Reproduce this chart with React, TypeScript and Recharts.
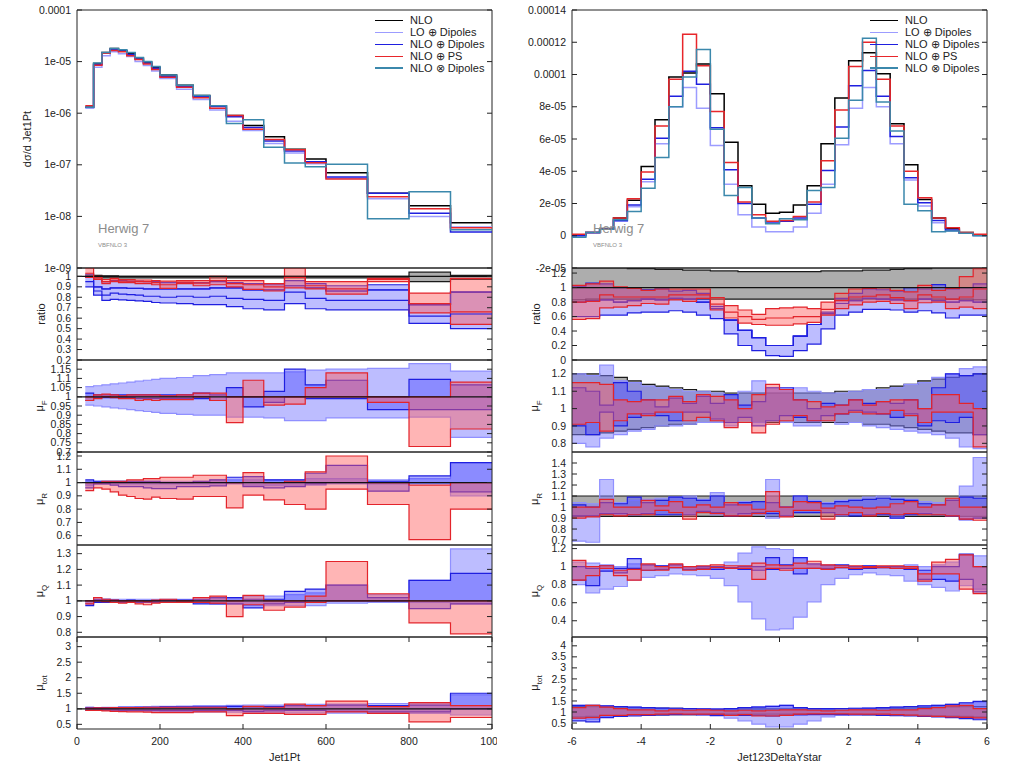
import React from 'react';
import { ComposedChart, Area, Line, XAxis, YAxis, ReferenceArea, ReferenceLine } from 'recharts';

// ---------- bins ----------
const ptEdges = [20, 40, 60, 80, 100, 120, 140, 160, 180, 200, 240, 280, 320, 360, 400, 450, 500, 550, 600, 700, 800, 900, 1000];
const dyEdges = [-6, -5.6, -5.2, -4.8, -4.4, -4, -3.6, -3.2, -2.8, -2.4, -2, -1.6, -1.2, -0.8, -0.4, 0, 0.4, 0.8, 1.2, 1.6, 2, 2.4, 2.8, 3.2, 3.6, 4, 4.4, 4.8, 5.2, 5.6, 6];

const ptTicks = [0, 200, 400, 600, 800, 1000];
const ptTickLabels = ['0', '200', '400', '600', '800', '1000'];
const dyTicks = [-6, -4, -2, 0, 2, 4, 6];
const dyTickLabels = ['-6', '-4', '-2', '0', '2', '4', '6'];

const seriesNames = ['NLO', 'LO ⊕ Dipoles', 'NLO ⊕ Dipoles', 'NLO ⊕ PS', 'NLO ⊗ Dipoles'];
const seriesColors = ['#000000', '#9c9cff', '#1f1fe0', '#e8262b', '#3b88ac'];

// ---------- Jet1Pt: main ----------
const ptNlo = [1.3e-6, 9.2e-6, 1.5e-5, 1.8e-5, 1.65e-5, 1.45e-5, 1.18e-5, 9.8e-6, 7.8e-6, 5.5e-6, 3.5e-6, 2.2e-6, 1.4e-6, 9e-7, 5.8e-7, 3.5e-7, 2e-7, 1.3e-7, 7e-8, 2.8e-8, 1.6e-8, 7.5e-9];
const ptLoDip = [1.25e-6, 7.8e-6, 1.3e-5, 1.55e-5, 1.42e-5, 1.25e-5, 1.0e-5, 8.4e-6, 6.6e-6, 4.7e-6, 2.9e-6, 1.85e-6, 1.15e-6, 7e-7, 4.6e-7, 2.6e-7, 1.7e-7, 1.05e-7, 5.5e-8, 2.2e-8, 1.0e-8, 6.2e-9];
const ptNloDip = [1.3e-6, 8.8e-6, 1.45e-5, 1.72e-5, 1.6e-5, 1.38e-5, 1.12e-5, 9.3e-6, 7.4e-6, 5.2e-6, 3.3e-6, 2.1e-6, 1.35e-6, 8.5e-7, 5.3e-7, 2.9e-7, 1.85e-7, 1.15e-7, 5.8e-8, 2.8e-8, 1.15e-8, 5e-9];
const ptNloPs = [1.4e-6, 8.5e-6, 1.45e-5, 1.65e-5, 1.55e-5, 1.3e-5, 1.1e-5, 9.0e-6, 7.0e-6, 5.0e-6, 3.2e-6, 2.0e-6, 1.25e-6, 9e-7, 4.9e-7, 3.1e-7, 1.95e-7, 1.1e-7, 5.3e-8, 2.4e-8, 1.4e-8, 6e-9];
const ptNloXDip = [1.3e-6, 9.4e-6, 1.5e-5, 1.8e-5, 1.7e-5, 1.5e-5, 1.2e-5, 1.0e-5, 8.0e-6, 5.5e-6, 3.5e-6, 2.2e-6, 1.4e-6, 6.3e-7, 7.5e-7, 2.2e-7, 1.08e-7, 9.2e-8, 1.02e-7, 9e-9, 3e-8, 5.5e-9];

// ---------- Jet1Pt: ratio ----------
const ptRatioGrayLo = [0.99, 0.985, 0.985, 0.985, 0.985, 0.985, 0.985, 0.985, 0.985, 0.985, 0.985, 0.985, 0.985, 0.985, 0.985, 0.985, 0.985, 0.985, 0.985, 0.985, 0.95, 0.97];
const ptRatioGrayHi = [1.01, 1.01, 1.005, 1.005, 1.0, 1.0, 1.0, 1.0, 1.0, 1.0, 1.0, 1.0, 1.0, 1.0, 1.0, 1.0, 1.0, 1.0, 1.0, 1.0, 1.04, 1.01];
const ptRatioLoDipLo = [0.9, 0.82, 0.77, 0.78, 0.775, 0.77, 0.765, 0.76, 0.75, 0.745, 0.74, 0.73, 0.73, 0.71, 0.69, 0.68, 0.74, 0.69, 0.68, 0.68, 0.55, 0.5];
const ptRatioLoDipMid = [0.95, 0.86, 0.82, 0.84, 0.83, 0.825, 0.82, 0.81, 0.81, 0.8, 0.81, 0.8, 0.81, 0.79, 0.78, 0.77, 0.85, 0.79, 0.77, 0.77, 0.62, 0.64];
const ptRatioLoDipHi = [0.99, 0.9, 0.88, 0.89, 0.89, 0.885, 0.885, 0.88, 0.88, 0.88, 0.88, 0.88, 0.89, 0.89, 0.87, 0.87, 0.91, 0.89, 0.86, 0.87, 0.73, 0.85];
const ptRatioNloDipHi = [1.02, 0.97, 0.95, 0.96, 0.96, 0.955, 0.955, 0.95, 0.95, 0.94, 0.94, 0.94, 0.95, 0.94, 0.93, 0.92, 0.96, 0.93, 0.91, 0.92, 0.73, 0.85];
const ptRatioPsLo = [0.99, 0.97, 0.93, 0.95, 0.94, 0.94, 0.93, 0.93, 0.92, 0.885, 0.93, 0.91, 0.92, 0.9, 0.875, 0.86, 0.89, 0.88, 0.83, 0.95, 0.65, 0.54];
const ptRatioPsMid = [1.03, 0.985, 0.95, 0.965, 0.955, 0.955, 0.95, 0.95, 0.94, 0.92, 0.945, 0.935, 0.96, 0.93, 0.92, 0.9, 0.99, 0.91, 0.88, 0.97, 0.74, 0.66];
const ptRatioPsHi = [1.08, 1.0, 0.97, 0.98, 0.97, 0.97, 0.965, 0.965, 0.96, 0.955, 0.96, 0.96, 1.0, 0.96, 0.96, 0.93, 1.08, 0.95, 0.95, 0.98, 0.84, 0.98];

// ---------- Jet1Pt: muF ----------
const ptMuFLightLo = [0.955, 0.95, 0.945, 0.94, 0.935, 0.93, 0.925, 0.92, 0.915, 0.91, 0.905, 0.9, 0.9, 0.89, 0.89, 0.885, 0.87, 0.87, 0.885, 0.885, 0.89, 0.78];
const ptMuFLightHi = [1.055, 1.06, 1.065, 1.07, 1.075, 1.08, 1.085, 1.09, 1.095, 1.1, 1.105, 1.115, 1.12, 1.13, 1.13, 1.13, 1.135, 1.145, 1.15, 1.155, 1.18, 1.14];
const ptMuFBlueLo = [0.98, 0.995, 0.995, 0.995, 0.995, 0.995, 0.99, 0.99, 0.99, 0.99, 0.99, 0.99, 0.98, 1.0, 0.945, 0.97, 1.0, 0.99, 0.99, 0.93, 0.93, 0.93];
const ptMuFBlueHi = [1.02, 1.01, 1.01, 1.01, 1.01, 1.01, 1.01, 1.01, 1.01, 1.01, 1.01, 1.02, 1.01, 1.05, 1.0, 1.03, 1.15, 1.065, 1.09, 1.0, 1.095, 1.065];
const ptMuFPsLo = [0.98, 0.99, 1.0, 0.995, 0.99, 0.99, 0.98, 0.985, 0.98, 0.985, 0.985, 1.0, 0.98, 0.86, 1.0, 0.955, 0.96, 1.0, 1.0, 0.97, 0.73, 0.825];
const ptMuFPsHi = [1.0, 1.01, 1.015, 1.01, 1.005, 1.01, 1.01, 1.01, 1.01, 1.005, 1.01, 1.02, 1.02, 1.0, 1.09, 1.0, 1.0, 1.05, 1.13, 1.0, 1.0, 1.08];

// ---------- Jet1Pt: muR ----------
const ptMuRLightLo = [0.98, 0.99, 0.99, 0.99, 0.99, 0.99, 0.99, 0.99, 0.99, 0.99, 0.99, 0.99, 0.99, 0.99, 0.98, 0.98, 0.98, 0.98, 0.99, 0.99, 0.99, 0.9];
const ptMuRLightHi = [1.01, 1.01, 1.01, 1.01, 1.01, 1.01, 1.01, 1.01, 1.01, 1.01, 1.01, 1.01, 1.02, 1.02, 1.02, 1.02, 1.02, 1.03, 1.03, 1.02, 1.03, 1.15];
const ptMuRBlueLo = [0.96, 0.99, 0.99, 0.98, 0.97, 0.97, 0.97, 0.96, 0.955, 0.955, 0.97, 0.97, 0.975, 1.0, 0.97, 0.96, 0.97, 0.99, 1.0, 0.935, 1.0, 0.93];
const ptMuRBlueHi = [1.02, 1.01, 1.01, 1.01, 1.01, 1.01, 1.01, 1.01, 1.01, 1.0, 1.0, 1.01, 1.02, 1.04, 1.045, 1.02, 1.02, 1.07, 1.13, 1.01, 1.05, 1.15];
const ptMuRPsLo = [0.94, 0.96, 0.95, 0.93, 0.905, 0.895, 0.88, 0.875, 0.89, 0.88, 0.875, 0.895, 0.895, 0.81, 0.905, 0.87, 0.835, 0.8, 0.95, 0.835, 0.57, 0.8];
const ptMuRPsHi = [1.0, 1.0, 1.01, 1.01, 1.01, 1.02, 1.02, 1.03, 1.03, 1.04, 1.04, 1.055, 1.055, 1.0, 1.075, 1.0, 1.01, 1.08, 1.2, 1.0, 0.98, 1.0];

// ---------- Jet1Pt: muQ ----------
const ptMuQLightLo = [0.98, 0.99, 0.99, 0.99, 0.99, 0.99, 0.99, 0.99, 0.99, 0.99, 0.99, 0.99, 0.98, 0.98, 0.97, 0.97, 0.97, 0.97, 0.985, 0.99, 0.99, 0.98];
const ptMuQLightHi = [1.0, 1.01, 1.01, 1.01, 1.01, 1.01, 1.01, 1.01, 1.01, 1.01, 1.01, 1.01, 1.02, 1.02, 1.03, 1.03, 1.04, 1.05, 1.1, 1.04, 1.13, 1.33];
const ptMuQBlueLo = [0.97, 0.99, 0.99, 0.99, 0.99, 0.99, 0.99, 0.99, 0.99, 0.99, 0.99, 0.98, 0.98, 0.98, 0.955, 0.98, 0.99, 1.0, 1.0, 1.0, 0.95, 0.98];
const ptMuQBlueHi = [1.0, 1.01, 1.01, 1.005, 1.0, 1.005, 1.0, 1.0, 1.0, 1.005, 1.005, 1.01, 1.02, 1.02, 1.01, 1.01, 1.06, 1.075, 1.1, 1.02, 1.13, 1.175];
const ptMuQPsLo = [0.98, 1.0, 0.995, 0.99, 0.985, 0.99, 0.98, 0.975, 0.985, 0.99, 0.99, 0.99, 0.985, 0.9, 0.975, 0.94, 0.96, 0.99, 1.0, 1.0, 0.86, 0.79];
const ptMuQPsHi = [1.0, 1.02, 1.01, 1.005, 1.0, 1.0, 1.0, 0.995, 1.005, 1.01, 1.0, 1.02, 1.03, 1.0, 1.035, 1.0, 1.0, 1.03, 1.25, 1.045, 1.0, 1.0];

// ---------- Jet1Pt: mutot ----------
const ptMuTLightLo = [0.97, 0.96, 0.95, 0.94, 0.94, 0.93, 0.93, 0.92, 0.92, 0.91, 0.91, 0.9, 0.9, 0.89, 0.88, 0.88, 0.87, 0.87, 0.86, 0.86, 0.85, 0.8];
const ptMuTLightHi = [1.03, 1.04, 1.05, 1.05, 1.06, 1.06, 1.07, 1.07, 1.08, 1.08, 1.09, 1.1, 1.1, 1.11, 1.12, 1.12, 1.13, 1.14, 1.15, 1.17, 1.18, 1.45];
const ptMuTBlueLo = [0.95, 0.96, 0.96, 0.96, 0.95, 0.95, 0.95, 0.95, 0.95, 0.94, 0.94, 0.94, 0.94, 0.95, 0.92, 0.93, 0.95, 0.95, 0.92, 0.9, 0.9, 1.0];
const ptMuTBlueHi = [1.05, 1.04, 1.04, 1.04, 1.05, 1.05, 1.05, 1.05, 1.05, 1.06, 1.06, 1.06, 1.06, 1.08, 1.06, 1.07, 1.1, 1.1, 1.12, 1.1, 1.12, 1.5];
const ptMuTPsLo = [0.95, 0.95, 0.93, 0.92, 0.91, 0.9, 0.9, 0.89, 0.88, 0.88, 0.88, 0.9, 0.9, 0.78, 0.85, 0.85, 0.82, 0.82, 0.9, 0.85, 0.58, 0.72];
const ptMuTPsHi = [1.02, 1.03, 1.03, 1.04, 1.04, 1.04, 1.04, 1.05, 1.05, 1.05, 1.05, 1.05, 1.05, 1.0, 1.08, 1.05, 1.15, 1.1, 1.25, 1.07, 1.2, 1.1];

// ---------- Jet123DeltaYstar: main ----------
const dyNlo = [5e-7, 2e-6, 4.5e-6, 1.1e-5, 2.2e-5, 4.3e-5, 7.2e-5, 9.85e-5, 1.01e-4, 1.065e-4, 8.8e-5, 5.8e-5, 3.1e-5, 1.95e-5, 1.4e-5, 1.45e-5, 1.9e-5, 3.1e-5, 5.7e-5, 8.55e-5, 1.085e-4, 1.135e-4, 1.005e-4, 6.95e-5, 4.4e-5, 2.25e-5, 1.1e-5, 4.5e-6, 2e-6, 5e-7];
const dyLoDip = [0, 1.5e-6, 4e-6, 9e-6, 1.8e-5, 3.35e-5, 5.7e-5, 8.0e-5, 9.2e-5, 7.9e-5, 5.6e-5, 3.2e-5, 1.3e-5, 5.5e-6, 2.5e-6, 2.5e-6, 5.5e-6, 1.4e-5, 3.2e-5, 5.65e-5, 7.9e-5, 9.2e-5, 8.0e-5, 5.7e-5, 3.45e-5, 1.85e-5, 8e-6, 3e-6, 1.5e-6, 0];
const dyNloDip = [0, 2e-6, 4e-6, 9.5e-6, 1.9e-5, 3.5e-5, 6.05e-5, 8.65e-5, 1.02e-4, 9.4e-5, 6.7e-5, 4.1e-5, 2.0e-5, 1.1e-5, 8.5e-6, 9e-6, 1.1e-5, 1.95e-5, 4.05e-5, 6.75e-5, 9.3e-5, 1.025e-4, 8.65e-5, 6.15e-5, 3.6e-5, 2.05e-5, 9.5e-6, 3.5e-6, 1.5e-6, 5e-7];
const dyNloPs = [1e-6, 2e-6, 4e-6, 1.1e-5, 2.3e-5, 3.95e-5, 6.8e-5, 9.7e-5, 1.25e-4, 1.055e-4, 7.7e-5, 4.55e-5, 2.1e-5, 1.3e-5, 9e-6, 9.5e-6, 1.2e-5, 2.1e-5, 4.65e-5, 7.8e-5, 1.05e-4, 1.2e-4, 9.7e-5, 6.8e-5, 4.0e-5, 2.35e-5, 1.1e-5, 5e-6, 2e-6, 1e-6];
const dyNloXDip = [-1e-6, 2e-6, 4e-6, 1.0e-5, 1.5e-5, 2.95e-5, 4.85e-5, 8.0e-5, 9.85e-5, 1.155e-4, 6.6e-5, 2.5e-5, 3.0e-5, 1.1e-5, 7.5e-6, 1.05e-5, 1.0e-5, 2.8e-5, 3.0e-5, 6.05e-5, 8.4e-5, 1.225e-4, 8.3e-5, 6.5e-5, 1.95e-5, 1.55e-5, 2.5e-6, 3e-6, 1.5e-6, 0];

// ---------- Jet123DeltaYstar: ratio ----------
const dyRatioGrayLo = [0.83, 0.84, 0.84, 0.84, 0.84, 0.84, 0.84, 0.84, 0.84, 0.84, 0.84, 0.84, 0.84, 0.84, 0.84, 0.84, 0.84, 0.84, 0.84, 0.84, 0.84, 0.84, 0.84, 0.84, 0.84, 0.84, 0.84, 0.84, 0.84, 0.83];
const dyRatioGrayHi = [1.27, 1.27, 1.27, 1.27, 1.26, 1.26, 1.25, 1.25, 1.24, 1.24, 1.23, 1.23, 1.22, 1.22, 1.22, 1.22, 1.22, 1.22, 1.23, 1.23, 1.23, 1.24, 1.24, 1.25, 1.26, 1.26, 1.27, 1.27, 1.27, 1.27];
const dyRatioLoDipLo = [0.6, 0.6, 0.62, 0.62, 0.65, 0.66, 0.66, 0.68, 0.66, 0.62, 0.57, 0.36, 0.2, 0.13, 0.06, 0.05, 0.13, 0.22, 0.43, 0.62, 0.66, 0.7, 0.7, 0.69, 0.66, 0.68, 0.65, 0.58, 0.62, 0.62];
const dyRatioLoDipHi = [0.8, 0.82, 0.83, 0.8, 0.82, 0.84, 0.83, 0.85, 0.84, 0.8, 0.71, 0.55, 0.41, 0.31, 0.2, 0.2, 0.33, 0.49, 0.64, 0.78, 0.82, 0.85, 0.84, 0.83, 0.82, 0.84, 0.82, 0.8, 0.82, 0.8];
const dyRatioNloDipHi = [1.02, 1.06, 1.05, 1.0, 0.99, 0.97, 0.98, 0.95, 0.96, 0.92, 0.74, 0.55, 0.41, 0.31, 0.2, 0.2, 0.33, 0.49, 0.66, 0.85, 0.92, 0.98, 0.97, 0.95, 1.0, 0.98, 1.04, 0.98, 1.0, 1.05];
const dyRatioPsLo = [0.56, 0.57, 0.72, 0.73, 0.75, 0.78, 0.77, 0.83, 0.81, 0.85, 0.69, 0.58, 0.51, 0.49, 0.48, 0.48, 0.5, 0.52, 0.62, 0.71, 0.76, 0.8, 0.81, 0.78, 0.71, 0.79, 0.8, 0.71, 0.73, 0.71];
const dyRatioPsMid = [0.8, 0.81, 0.9, 0.87, 0.87, 0.87, 0.87, 0.9, 0.9, 0.9, 0.77, 0.66, 0.6, 0.56, 0.58, 0.58, 0.6, 0.6, 0.7, 0.82, 0.87, 0.88, 0.9, 0.86, 0.82, 0.9, 0.87, 0.84, 0.87, 0.98];
const dyRatioPsHi = [1.03, 1.05, 1.09, 1.01, 0.99, 0.96, 0.98, 0.98, 0.98, 0.98, 0.86, 0.75, 0.69, 0.63, 0.71, 0.72, 0.73, 0.71, 0.8, 0.92, 0.98, 0.99, 1.0, 0.96, 0.94, 1.03, 0.96, 0.99, 1.15, 1.26];

// ---------- Jet123DeltaYstar: muF ----------
const dyMuFGrayLo = [0.85, 0.85, 0.86, 0.87, 0.88, 0.89, 0.9, 0.91, 0.91, 0.92, 0.92, 0.92, 0.92, 0.92, 0.92, 0.92, 0.92, 0.92, 0.92, 0.92, 0.92, 0.91, 0.91, 0.9, 0.89, 0.88, 0.87, 0.86, 0.86, 0.85];
const dyMuFGrayHi = [1.2, 1.2, 1.19, 1.18, 1.16, 1.14, 1.13, 1.12, 1.11, 1.1, 1.1, 1.09, 1.09, 1.09, 1.09, 1.09, 1.09, 1.09, 1.09, 1.1, 1.1, 1.11, 1.12, 1.13, 1.14, 1.16, 1.17, 1.18, 1.19, 1.2];
const dyMuFLightLo = [0.8, 0.78, 0.83, 0.85, 0.87, 0.88, 0.9, 0.9, 0.91, 0.92, 0.92, 0.9, 0.93, 0.92, 0.93, 0.92, 0.9, 0.9, 0.93, 0.91, 0.92, 0.9, 0.89, 0.88, 0.87, 0.86, 0.85, 0.83, 0.78, 0.77];
const dyMuFLightHi = [1.2, 1.19, 1.25, 1.16, 1.15, 1.13, 1.12, 1.11, 1.1, 1.1, 1.09, 1.08, 1.1, 1.16, 1.12, 1.11, 1.12, 1.1, 1.09, 1.09, 1.1, 1.11, 1.11, 1.12, 1.14, 1.15, 1.18, 1.2, 1.23, 1.24];
const dyMuFBlueLo = [0.9, 0.85, 0.98, 0.9, 0.95, 0.97, 0.96, 0.93, 0.98, 0.98, 0.94, 0.92, 0.95, 0.9, 0.93, 0.96, 0.95, 0.93, 0.96, 0.97, 0.99, 0.98, 0.97, 0.95, 0.97, 0.9, 0.93, 0.92, 0.95, 0.85];
const dyMuFBlueHi = [1.12, 1.1, 1.02, 1.15, 1.1, 1.05, 1.01, 1.06, 1.03, 1.07, 1.03, 1.08, 1.02, 1.04, 1.12, 1.12, 1.05, 1.0, 1.03, 1.02, 1.05, 1.03, 1.04, 1.03, 1.05, 1.0, 1.12, 1.2, 1.19, 1.2];
const dyMuFPsLo = [0.91, 0.92, 0.87, 0.93, 0.97, 0.96, 0.98, 0.98, 0.93, 0.95, 0.93, 0.89, 0.92, 0.86, 0.91, 0.93, 0.96, 0.93, 0.93, 0.97, 0.98, 0.97, 0.97, 0.99, 0.96, 0.92, 0.98, 0.98, 0.98, 0.78];
const dyMuFPsHi = [1.15, 1.15, 1.14, 1.05, 1.04, 1.05, 1.05, 1.07, 1.04, 1.08, 1.07, 1.05, 1.0, 1.08, 1.14, 1.11, 1.05, 1.04, 1.01, 1.02, 1.05, 1.02, 1.04, 1.05, 1.05, 1.0, 1.08, 1.08, 1.03, 1.0];

// ---------- Jet123DeltaYstar: muR ----------
const dyMuRGrayLo = [0.915, 0.915, 0.915, 0.915, 0.915, 0.915, 0.915, 0.915, 0.915, 0.915, 0.915, 0.915, 0.915, 0.915, 0.915, 0.915, 0.915, 0.915, 0.915, 0.915, 0.915, 0.915, 0.915, 0.915, 0.915, 0.915, 0.915, 0.915, 0.915, 0.915];
const dyMuRGrayHi = [1.1, 1.1, 1.1, 1.1, 1.1, 1.1, 1.1, 1.1, 1.1, 1.1, 1.1, 1.1, 1.1, 1.1, 1.1, 1.1, 1.1, 1.1, 1.1, 1.1, 1.1, 1.1, 1.1, 1.1, 1.1, 1.1, 1.1, 1.1, 1.1, 1.1];
const dyMuRLightLo = [0.69, 0.68, 0.95, 0.93, 0.93, 0.95, 0.93, 0.95, 0.94, 0.96, 0.93, 0.95, 0.93, 0.93, 0.9, 0.92, 0.95, 0.95, 0.95, 0.92, 0.93, 0.93, 0.93, 0.9, 0.93, 0.95, 0.95, 0.92, 0.88, 0.9];
const dyMuRLightHi = [1.04, 1.03, 1.25, 1.04, 1.06, 1.07, 1.08, 1.09, 1.1, 1.07, 1.13, 1.04, 1.05, 1.05, 1.25, 1.0, 1.1, 1.06, 1.04, 1.06, 1.07, 1.09, 1.1, 1.08, 1.07, 1.05, 1.04, 1.07, 1.19, 1.45];
const dyMuRBlueLo = [0.92, 0.92, 0.94, 0.94, 0.93, 0.94, 0.93, 0.93, 0.93, 0.96, 0.95, 0.92, 0.94, 0.95, 0.94, 0.92, 0.95, 0.95, 0.95, 0.93, 0.92, 0.93, 0.93, 0.9, 0.93, 0.94, 0.93, 0.92, 0.89, 0.9];
const dyMuRBlueHi = [1.02, 1.0, 1.04, 1.03, 1.09, 1.04, 1.06, 1.09, 1.08, 1.06, 1.1, 1.02, 1.04, 1.05, 1.04, 1.0, 1.1, 1.05, 1.03, 1.05, 1.06, 1.07, 1.08, 1.07, 1.06, 1.03, 1.02, 1.06, 1.09, 1.08];
const dyMuRPsLo = [0.9, 0.91, 0.93, 0.92, 0.93, 0.93, 0.97, 0.95, 0.89, 0.95, 0.94, 0.92, 0.92, 0.94, 0.96, 0.91, 0.97, 0.97, 0.89, 0.93, 0.95, 0.92, 0.94, 0.93, 0.94, 0.93, 0.93, 0.92, 0.89, 0.88];
const dyMuRPsHi = [1.0, 1.0, 1.07, 1.0, 1.0, 1.06, 1.01, 1.05, 1.0, 1.02, 1.0, 1.04, 1.02, 0.98, 1.14, 1.0, 1.05, 1.04, 0.99, 1.01, 1.0, 0.99, 1.0, 1.03, 1.05, 1.0, 1.02, 1.08, 1.0, 1.0];

// ---------- Jet123DeltaYstar: muQ ----------
const dyMuQLightLo = [0.8, 0.71, 0.75, 0.78, 0.85, 0.88, 0.9, 0.92, 0.91, 0.9, 0.87, 0.79, 0.61, 0.42, 0.3, 0.31, 0.44, 0.61, 0.8, 0.87, 0.91, 0.93, 0.91, 0.9, 0.84, 0.8, 0.77, 0.73, 0.79, 0.75];
const dyMuQLightHi = [1.05, 1.04, 1.02, 1.0, 1.03, 1.02, 1.01, 1.02, 1.0, 1.0, 1.0, 1.05, 1.15, 1.22, 1.2, 1.19, 1.1, 1.02, 1.02, 1.01, 1.0, 1.01, 1.0, 1.0, 1.02, 1.0, 1.02, 1.05, 1.13, 1.12];
const dyMuQBlueLo = [0.85, 0.79, 0.95, 0.93, 0.98, 0.96, 0.97, 0.99, 0.97, 0.98, 0.97, 0.98, 0.97, 0.96, 0.97, 0.98, 0.92, 0.98, 0.98, 0.99, 0.97, 0.98, 0.99, 0.98, 0.97, 0.86, 0.86, 0.84, 0.86, 0.72];
const dyMuQBlueHi = [1.0, 0.98, 1.01, 0.98, 1.09, 1.02, 1.01, 1.02, 1.0, 1.0, 1.0, 0.99, 1.0, 1.0, 1.1, 1.02, 1.1, 1.03, 1.01, 1.02, 1.0, 1.01, 1.0, 1.0, 1.0, 0.96, 1.0, 1.0, 1.14, 1.0];
const dyMuQPsLo = [0.85, 0.9, 0.98, 0.9, 0.85, 0.96, 0.96, 0.99, 0.96, 0.97, 0.99, 0.98, 0.98, 0.86, 0.98, 0.96, 0.98, 0.98, 0.97, 0.99, 0.98, 0.99, 0.99, 0.98, 0.98, 0.84, 0.92, 0.92, 0.75, 0.7];
const dyMuQPsHi = [1.07, 1.0, 1.01, 0.96, 0.97, 1.03, 1.0, 1.03, 1.0, 1.01, 1.02, 1.01, 1.01, 1.04, 1.02, 1.01, 1.04, 1.06, 1.02, 1.01, 1.01, 1.0, 1.01, 1.01, 1.0, 0.92, 1.05, 1.08, 1.13, 1.0];

// ---------- Jet123DeltaYstar: mutot ----------
const dyMuTGrayLo = [0.78, 0.8, 0.82, 0.84, 0.85, 0.86, 0.87, 0.88, 0.88, 0.89, 0.89, 0.9, 0.9, 0.9, 0.9, 0.9, 0.9, 0.9, 0.9, 0.89, 0.89, 0.88, 0.88, 0.87, 0.86, 0.85, 0.84, 0.82, 0.8, 0.78];
const dyMuTGrayHi = [1.25, 1.24, 1.23, 1.22, 1.2, 1.19, 1.18, 1.17, 1.16, 1.15, 1.15, 1.14, 1.14, 1.14, 1.14, 1.14, 1.14, 1.14, 1.14, 1.15, 1.15, 1.16, 1.17, 1.18, 1.19, 1.2, 1.22, 1.23, 1.24, 1.25];
const dyMuTLightLo = [0.7, 0.65, 0.8, 0.82, 0.85, 0.87, 0.88, 0.9, 0.9, 0.88, 0.82, 0.72, 0.6, 0.45, 0.33, 0.33, 0.45, 0.6, 0.78, 0.85, 0.88, 0.9, 0.88, 0.87, 0.85, 0.82, 0.8, 0.78, 0.72, 0.7];
const dyMuTLightHi = [1.3, 1.3, 1.28, 1.25, 1.22, 1.2, 1.18, 1.17, 1.16, 1.16, 1.15, 1.15, 1.2, 1.25, 1.28, 1.3, 1.2, 1.15, 1.15, 1.16, 1.17, 1.18, 1.2, 1.22, 1.25, 1.28, 1.3, 1.35, 1.4, 1.45];
const dyMuTBlueLo = [0.6, 0.55, 0.75, 0.8, 0.82, 0.85, 0.87, 0.88, 0.88, 0.87, 0.85, 0.85, 0.85, 0.85, 0.82, 0.85, 0.87, 0.88, 0.88, 0.88, 0.87, 0.87, 0.85, 0.83, 0.82, 0.8, 0.78, 0.75, 0.7, 0.65];
const dyMuTBlueHi = [1.3, 1.3, 1.28, 1.25, 1.22, 1.2, 1.18, 1.17, 1.15, 1.14, 1.13, 1.15, 1.2, 1.22, 1.25, 1.3, 1.2, 1.15, 1.15, 1.16, 1.17, 1.18, 1.2, 1.22, 1.25, 1.28, 1.3, 1.35, 1.42, 1.48];
const dyMuTPsLo = [0.72, 0.75, 0.85, 0.85, 0.88, 0.88, 0.9, 0.92, 0.9, 0.9, 0.9, 0.85, 0.88, 0.82, 0.82, 0.85, 0.9, 0.92, 0.92, 0.92, 0.9, 0.9, 0.9, 0.88, 0.86, 0.82, 0.8, 0.78, 0.76, 0.73];
const dyMuTPsHi = [1.2, 1.3, 1.22, 1.15, 1.1, 1.1, 1.05, 1.1, 1.08, 1.1, 1.08, 1.05, 1.08, 1.05, 1.08, 1.1, 1.1, 1.08, 1.05, 1.08, 1.1, 1.1, 1.08, 1.1, 1.1, 1.15, 1.2, 1.28, 1.3, 1.15];

// ---------- styling / layout ----------
const FONT = '"Liberation Sans", Arial, sans-serif';
const PLOT_W = 415;
const GRAY = { fill: '#8a8a8a', opacity: 0.7, stroke: '#1a1a1a' };
const LIGHT = { fill: '#7b7bff', opacity: 0.5, stroke: '#9090ff' };
const LIGHT_DARK = { fill: '#7b7bff', opacity: 0.5, stroke: '#1f1fe0' };
const BLUE = { fill: '#4d4dff', opacity: 0.45, stroke: '#1f1fe0' };
const RED = { fill: '#ff5b5b', opacity: 0.45, stroke: '#e3242b' };

type Style = { fill: string; opacity: number; stroke: string };
type Band = { key: string; lo: number[]; hi: number[]; s: Style };
type Trace = { key: string; v: number[]; stroke: string; width: number };
type PanelDef = {
  top: number; h: number; domain: [number, number]; ticks: number[]; labels: string[];
  log?: boolean; bands: Band[]; lines: Trace[]; unity?: boolean; title?: React.ReactNode; titleX?: number;
};

const band = (key: string, lo: number[], hi: number[], s: Style): Band => ({ key, lo, hi, s });
const trace = (key: string, v: number[], stroke: string, width = 1.5): Trace => ({ key, v, stroke, width });
const str = (a: number[]) => a.map(String);
const mu = (sub: string) => <span>μ<sub style={{ fontSize: 8 }}>{sub}</sub></span>;

const TOPS = [10, 268, 360, 452, 545, 637];
const HEIGHTS = [258, 92, 92, 93, 92, 92];

const ptPanels: PanelDef[] = [
  {
    top: TOPS[0], h: HEIGHTS[0], domain: [1e-9, 1e-4], log: true,
    ticks: [1e-9, 1e-8, 1e-7, 1e-6, 1e-5, 1e-4], labels: ['1e-09', '1e-08', '1e-07', '1e-06', '1e-05', '0.0001'],
    bands: [],
    lines: [
      trace('nlo', ptNlo, seriesColors[0]), trace('lo', ptLoDip, seriesColors[1]), trace('nd', ptNloDip, seriesColors[2]),
      trace('ps', ptNloPs, seriesColors[3]), trace('nx', ptNloXDip, seriesColors[4]),
    ],
    title: 'dσ/d Jet1Pt', titleX: -50,
  },
  {
    top: TOPS[1], h: HEIGHTS[1], domain: [0.2, 1.08],
    ticks: [0.2, 0.3, 0.4, 0.5, 0.6, 0.7, 0.8, 0.9, 1], labels: str([0.2, 0.3, 0.4, 0.5, 0.6, 0.7, 0.8, 0.9, 1]),
    bands: [
      band('g', ptRatioGrayLo, ptRatioGrayHi, GRAY),
      band('ld', ptRatioLoDipLo, ptRatioLoDipHi, LIGHT_DARK),
      band('nd', ptRatioLoDipHi, ptRatioNloDipHi, LIGHT_DARK),
      band('ps', ptRatioPsLo, ptRatioPsHi, RED),
    ],
    lines: [trace('ldm', ptRatioLoDipMid, '#1f1fe0', 1.2), trace('psm', ptRatioPsMid, '#e3242b', 1.2)],
    unity: true, title: 'ratio',
  },
  {
    top: TOPS[2], h: HEIGHTS[2], domain: [0.7, 1.2],
    ticks: [0.7, 0.75, 0.8, 0.85, 0.9, 0.95, 1, 1.05, 1.1, 1.15], labels: str([0.7, 0.75, 0.8, 0.85, 0.9, 0.95, 1, 1.05, 1.1, 1.15]),
    bands: [band('l', ptMuFLightLo, ptMuFLightHi, LIGHT), band('b', ptMuFBlueLo, ptMuFBlueHi, BLUE), band('r', ptMuFPsLo, ptMuFPsHi, RED)],
    lines: [], unity: true, title: mu('F'),
  },
  {
    top: TOPS[3], h: HEIGHTS[3], domain: [0.53, 1.23],
    ticks: [0.6, 0.7, 0.8, 0.9, 1, 1.1, 1.2], labels: str([0.6, 0.7, 0.8, 0.9, 1, 1.1, 1.2]),
    bands: [band('l', ptMuRLightLo, ptMuRLightHi, LIGHT), band('b', ptMuRBlueLo, ptMuRBlueHi, BLUE), band('r', ptMuRPsLo, ptMuRPsHi, RED)],
    lines: [], unity: true, title: mu('R'),
  },
  {
    top: TOPS[4], h: HEIGHTS[4], domain: [0.77, 1.355],
    ticks: [0.8, 0.9, 1, 1.1, 1.2, 1.3], labels: str([0.8, 0.9, 1, 1.1, 1.2, 1.3]),
    bands: [band('l', ptMuQLightLo, ptMuQLightHi, LIGHT), band('b', ptMuQBlueLo, ptMuQBlueHi, BLUE), band('r', ptMuQPsLo, ptMuQPsHi, RED)],
    lines: [], unity: true, title: mu('Q'),
  },
  {
    top: TOPS[5], h: HEIGHTS[5], domain: [0.35, 3.31],
    ticks: [0.5, 1, 1.5, 2, 2.5, 3], labels: str([0.5, 1, 1.5, 2, 2.5, 3]),
    bands: [band('l', ptMuTLightLo, ptMuTLightHi, LIGHT), band('b', ptMuTBlueLo, ptMuTBlueHi, BLUE), band('r', ptMuTPsLo, ptMuTPsHi, RED)],
    lines: [], unity: true, title: mu('tot'),
  },
];

const dyPanels: PanelDef[] = [
  {
    top: TOPS[0], h: HEIGHTS[0], domain: [-2e-5, 1.4e-4],
    ticks: [-2e-5, 0, 2e-5, 4e-5, 6e-5, 8e-5, 1e-4, 1.2e-4, 1.4e-4],
    labels: ['-2e-05', '0', '2e-05', '4e-05', '6e-05', '8e-05', '0.0001', '0.00012', '0.00014'],
    bands: [],
    lines: [
      trace('nlo', dyNlo, seriesColors[0]), trace('lo', dyLoDip, seriesColors[1]), trace('nd', dyNloDip, seriesColors[2]),
      trace('ps', dyNloPs, seriesColors[3]), trace('nx', dyNloXDip, seriesColors[4]),
    ],
  },
  {
    top: TOPS[1], h: HEIGHTS[1], domain: [0, 1.27],
    ticks: [0, 0.2, 0.4, 0.6, 0.8, 1, 1.2], labels: str([0, 0.2, 0.4, 0.6, 0.8, 1, 1.2]),
    bands: [
      band('g', dyRatioGrayLo, dyRatioGrayHi, GRAY),
      band('ld', dyRatioLoDipLo, dyRatioLoDipHi, LIGHT_DARK),
      band('nd', dyRatioLoDipHi, dyRatioNloDipHi, BLUE),
      band('ps', dyRatioPsLo, dyRatioPsHi, RED),
    ],
    lines: [trace('psm', dyRatioPsMid, '#e3242b', 1.2)],
    unity: true, title: 'ratio',
  },
  {
    top: TOPS[2], h: HEIGHTS[2], domain: [0.75, 1.28],
    ticks: [0.8, 0.9, 1, 1.1, 1.2], labels: str([0.8, 0.9, 1, 1.1, 1.2]),
    bands: [
      band('g', dyMuFGrayLo, dyMuFGrayHi, GRAY), band('l', dyMuFLightLo, dyMuFLightHi, LIGHT),
      band('b', dyMuFBlueLo, dyMuFBlueHi, BLUE), band('r', dyMuFPsLo, dyMuFPsHi, RED),
    ],
    lines: [], title: mu('F'),
  },
  {
    top: TOPS[3], h: HEIGHTS[3], domain: [0.655, 1.5],
    ticks: [0.7, 0.8, 0.9, 1, 1.1, 1.2, 1.3, 1.4], labels: str([0.7, 0.8, 0.9, 1, 1.1, 1.2, 1.3, 1.4]),
    bands: [
      band('g', dyMuRGrayLo, dyMuRGrayHi, GRAY), band('l', dyMuRLightLo, dyMuRLightHi, LIGHT),
      band('b', dyMuRBlueLo, dyMuRBlueHi, BLUE), band('r', dyMuRPsLo, dyMuRPsHi, RED),
    ],
    lines: [], title: mu('R'),
  },
  {
    top: TOPS[4], h: HEIGHTS[4], domain: [0.22, 1.24],
    ticks: [0.4, 0.6, 0.8, 1, 1.2], labels: str([0.4, 0.6, 0.8, 1, 1.2]),
    bands: [band('l', dyMuQLightLo, dyMuQLightHi, LIGHT), band('b', dyMuQBlueLo, dyMuQBlueHi, BLUE), band('r', dyMuQPsLo, dyMuQPsHi, RED)],
    lines: [], title: mu('Q'),
  },
  {
    top: TOPS[5], h: HEIGHTS[5], domain: [0.23, 4.4],
    ticks: [0.5, 1, 1.5, 2, 2.5, 3, 3.5, 4], labels: str([0.5, 1, 1.5, 2, 2.5, 3, 3.5, 4]),
    bands: [
      band('g', dyMuTGrayLo, dyMuTGrayHi, GRAY), band('l', dyMuTLightLo, dyMuTLightHi, LIGHT),
      band('b', dyMuTBlueLo, dyMuTBlueHi, BLUE), band('r', dyMuTPsLo, dyMuTPsHi, RED),
    ],
    lines: [], title: mu('tot'),
  },
];

type Column = {
  left: number; yW: number; edges: number[]; xDomain: [number, number]; xTicks: number[]; xLabels: string[];
  xTitle: string; panels: PanelDef[]; bg?: string;
};

function makeRows(edges: number[], bands: Band[], lines: Trace[]) {
  // step histograms: one row per bin edge, last edge repeats the last bin
  return edges.map((x, i) => {
    const k = Math.min(i, edges.length - 2);
    const row: Record<string, any> = { x };
    for (const b of bands) row[b.key] = [b.lo[k], b.hi[k]];
    for (const l of lines) row[l.key] = l.v[k];
    return row;
  });
}

function XTick(props: any) {
  const { x, y, h, txt } = props;
  return (
    <g>
      <line x1={x} x2={x} y1={y} y2={y - 5} stroke="#222" />
      <line x1={x} x2={x} y1={y - h} y2={y - h + 5} stroke="#222" />
      {txt ? (
        <text x={x} y={y + 16} textAnchor="middle" fontSize={10.5} fontFamily={FONT} fill="#222">{txt}</text>
      ) : null}
    </g>
  );
}

function YTick(props: any) {
  const { x, y, txt } = props;
  return (
    <g>
      <line x1={x} x2={x + 5} y1={y} y2={y} stroke="#222" />
      <line x1={x + PLOT_W} x2={x + PLOT_W - 5} y1={y} y2={y} stroke="#222" />
      <text x={x - 6} y={y} dy={3.6} textAnchor="end" fontSize={10.5} fontFamily={FONT} fill="#222">{txt}</text>
    </g>
  );
}

function Panel({ p, col, isLast }: { p: PanelDef; col: Column; isLast: boolean }) {
  const axisH = isLast ? 24 : 0;
  const rows = makeRows(col.edges, p.bands, p.lines);
  const xLabel = (t: any) => {
    if (!isLast) return '';
    const v = t?.payload?.value;
    const i = col.xTicks.findIndex((tv) => Math.abs(tv - v) < 1e-9);
    return i >= 0 ? col.xLabels[i] : String(v);
  };
  return (
    <div style={{ position: 'absolute', left: 0, top: p.top - 10 }}>
      <ComposedChart width={col.yW + PLOT_W + 8} height={p.h + 20 + axisH} data={rows}
        margin={{ top: 10, right: 8, bottom: 10, left: 0 }}>
        <XAxis dataKey="x" type="number" domain={col.xDomain} ticks={col.xTicks} interval={0} allowDataOverflow
          axisLine={false} tickLine={false} tickSize={0} tickMargin={0} height={axisH}
          tick={(t: any) => <XTick {...t} h={p.h} txt={xLabel(t)} />} />
        <YAxis type="number" scale={p.log ? 'log' : 'linear'} domain={p.domain} ticks={p.ticks} interval={0} allowDataOverflow
          width={col.yW} axisLine={false} tickLine={false} tickSize={0} tickMargin={0}
          tick={(t: any) => <YTick {...t} txt={p.labels[p.ticks.indexOf(t.payload.value)]} />} />
        {p.bands.map((b) => (
          <Area key={b.key} type="stepAfter" dataKey={b.key} fill={b.s.fill} fillOpacity={b.s.opacity}
            stroke={b.s.stroke} strokeWidth={1.2} dot={false} activeDot={false} isAnimationActive={false} />
        ))}
        {p.unity && <ReferenceLine y={1} stroke="#111" strokeWidth={1.2} />}
        {p.lines.map((l) => (
          <Line key={l.key} type="stepAfter" dataKey={l.key} stroke={l.stroke} strokeWidth={l.width}
            dot={false} activeDot={false} isAnimationActive={false} />
        ))}
        <ReferenceArea x1={col.xDomain[0]} x2={col.xDomain[1]} y1={p.domain[0]} y2={p.domain[1]}
          fill="none" stroke="#222" strokeWidth={1} ifOverflow="visible" />
      </ComposedChart>
    </div>
  );
}

function ColumnView({ col }: { col: Column }) {
  const plotLeft = col.yW;
  const lastIdx = col.panels.length - 1;
  return (
    <div style={{ position: 'absolute', left: col.left, top: 0, width: 1015 - col.left, height: 765, background: col.bg }}>
      {col.panels.map((p, i) => <Panel key={i} p={p} col={col} isLast={i === lastIdx} />)}
      {col.panels.map((p, i) => p.title && (
        <div key={'t' + i} style={{
          position: 'absolute', left: plotLeft + (p.titleX ?? -36), top: p.top + p.h / 2,
          transform: 'translate(-50%, -50%) rotate(-90deg)', fontSize: 11, whiteSpace: 'nowrap', color: '#222',
        }}>{p.title}</div>
      ))}
      <div style={{ position: 'absolute', left: plotLeft, width: PLOT_W, top: 751, textAlign: 'center', fontSize: 11, color: '#222' }}>
        {col.xTitle}
      </div>
      {seriesNames.map((n, i) => (
        <div key={n} style={{ position: 'absolute', left: plotLeft + 298, top: 14 + i * 12, height: 12, display: 'flex', alignItems: 'center' }}>
          <div style={{ width: 28, height: 0, borderTop: `${i === 4 ? 2 : 1.5}px solid ${seriesColors[i]}` }} />
          <span style={{ marginLeft: 7, fontSize: 11, color: '#222', lineHeight: '12px' }}>{n}</span>
        </div>
      ))}
      <div style={{ position: 'absolute', left: plotLeft + 21, top: 221, fontSize: 13, color: '#8c8c8c' }}>Herwig 7</div>
      <div style={{ position: 'absolute', left: plotLeft + 21, top: 242, fontSize: 6, color: '#8c8c8c' }}>VBFNLO 3</div>
    </div>
  );
}

const columns: Column[] = [
  { left: 0, yW: 77, edges: ptEdges, xDomain: [0, 1000], xTicks: ptTicks, xLabels: ptTickLabels, xTitle: 'Jet1Pt', panels: ptPanels },
  { left: 497, yW: 75, edges: dyEdges, xDomain: [-6, 6], xTicks: dyTicks, xLabels: dyTickLabels, xTitle: 'Jet123DeltaYstar', panels: dyPanels, bg: '#ffffff' },
];

export default function App() {
  return (
    <div style={{ position: 'absolute', left: 0, top: 0, width: 1015, height: 765, background: '#fff', fontFamily: FONT, overflow: 'hidden' }}>
      {columns.map((c) => <ColumnView key={c.xTitle} col={c} />)}
    </div>
  );
}
